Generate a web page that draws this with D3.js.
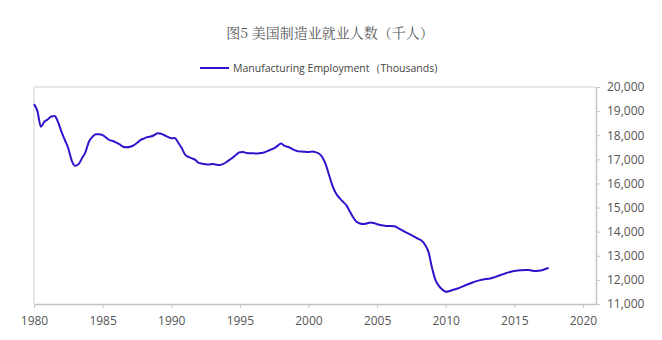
<!DOCTYPE html>
<html><head><meta charset="utf-8">
<script src="https://cdn.jsdelivr.net/npm/d3@7"></script>
<style>
body{margin:0;background:#fff;}
svg{display:block;}
</style></head>
<body>
<svg id="chart" width="662" height="340"></svg>
<script>
const title = "图5 美国制造业就业人数（千人）";
const seriesName = "Manufacturing Employment（Thousands)";
const startYear = 1980;
// quarterly values (thousands), starting 1980 Q1
const employment = [
  19290, 19000, 18350, 18560,
  18650, 18780, 18800, 18550,
  18150, 17800, 17450, 16950,
  16730, 16800, 17050, 17300,
  17730, 17930, 18040, 18040,
  18000, 17900, 17800, 17760,
  17690, 17620, 17520, 17500,
  17520, 17580, 17680, 17800,
  17860, 17920, 17950, 18000,
  18080, 18060, 18000, 17930,
  17870, 17880, 17700, 17480,
  17200, 17100, 17040, 16980,
  16850, 16820, 16800, 16790,
  16810, 16780, 16760, 16800,
  16880, 16980, 17080, 17200,
  17290, 17300, 17260, 17250,
  17250, 17240, 17260, 17280,
  17340, 17400, 17460, 17560,
  17660, 17560, 17520, 17450,
  17380, 17330, 17320, 17310,
  17300, 17320, 17300, 17240,
  17100, 16800, 16350, 15900,
  15590, 15400, 15250, 15100,
  14850, 14600, 14410, 14340,
  14320, 14340, 14380, 14360,
  14310, 14280, 14250, 14230,
  14230, 14220, 14160, 14080,
  14000, 13930, 13860, 13780,
  13700, 13620, 13450, 13150,
  12500, 12000, 11750, 11600,
  11510, 11530, 11580, 11620,
  11670, 11730, 11790, 11850,
  11900, 11950, 11990, 12020,
  12040, 12060, 12100, 12150,
  12200, 12250, 12300, 12340,
  12370, 12390, 12400, 12410,
  12410, 12390, 12370, 12380,
  12400, 12450, 12500
];
const xTicks = [1980, 1985, 1990, 1995, 2000, 2005, 2010, 2015, 2020];
const yTicks = [11000, 12000, 13000, 14000, 15000, 16000, 17000, 18000, 19000, 20000];

const data = employment.map((v, i) => ({t: startYear + i / 4, v}));

const svg = d3.select("#chart");
const m = {left: 34, right: 596, top: 87, bottom: 304};
const x = d3.scaleLinear().domain([1980, 2020.95]).range([m.left, m.right]);
const y = d3.scaleLinear().domain([11000, 20000]).range([m.bottom, m.top]);

// title
svg.append("text").attr("x", 330).attr("y", 38).attr("text-anchor", "middle")
  .attr("font-family", "'Noto Serif CJK SC','Noto Sans CJK SC',serif").attr("font-size", 14)
  .attr("fill", "#5a5a5a").text(title);

// legend
svg.append("line").attr("x1", 200).attr("x2", 229).attr("y1", 68).attr("y2", 68)
  .attr("stroke", "#3311cc").attr("stroke-width", 2);
svg.append("text").attr("x", 233).attr("y", 72).attr("font-family", "'Open Sans',sans-serif")
  .attr("font-size", 10.5).attr("fill", "#444").text(seriesName);

// frame (top/left light)
svg.append("line").attr("x1", m.left).attr("x2", m.right).attr("y1", m.top).attr("y2", m.top)
  .attr("stroke", "#e0e0e0").attr("stroke-width", 1.5);
svg.append("line").attr("x1", m.left).attr("x2", m.left).attr("y1", m.top).attr("y2", m.bottom)
  .attr("stroke", "#e0e0e0").attr("stroke-width", 1.5);

// axes
const xAxis = d3.axisBottom(x).tickValues(xTicks).tickFormat(d3.format("d")).tickSize(4).tickSizeOuter(0);
const gx = svg.append("g").attr("transform", `translate(0,${m.bottom})`).call(xAxis);
const yAxis = d3.axisRight(y).tickValues(yTicks).tickFormat(d3.format(",")).tickSize(4).tickSizeOuter(0);
const gy = svg.append("g").attr("transform", `translate(${m.right},0)`).call(yAxis);
[gx, gy].forEach(g => {
  g.select(".domain").attr("stroke", "#c4c4c4").attr("stroke-width", 1.5);
  g.selectAll(".tick line").attr("stroke", "#c4c4c4");
  g.selectAll(".tick text").attr("font-family", "'Open Sans',sans-serif").attr("font-size", 12).attr("fill", "#555");
});
gx.selectAll(".tick text").attr("dy", "1.2em");
gy.selectAll(".tick text").attr("x", 11);

// line
const line = d3.line().x(d => x(d.t)).y(d => y(d.v)).curve(d3.curveMonotoneX);
svg.append("path").datum(data).attr("d", line).attr("fill", "none")
  .attr("stroke", "#3311cc").attr("stroke-width", 2).attr("stroke-linejoin", "round");
</script>
</body></html>
